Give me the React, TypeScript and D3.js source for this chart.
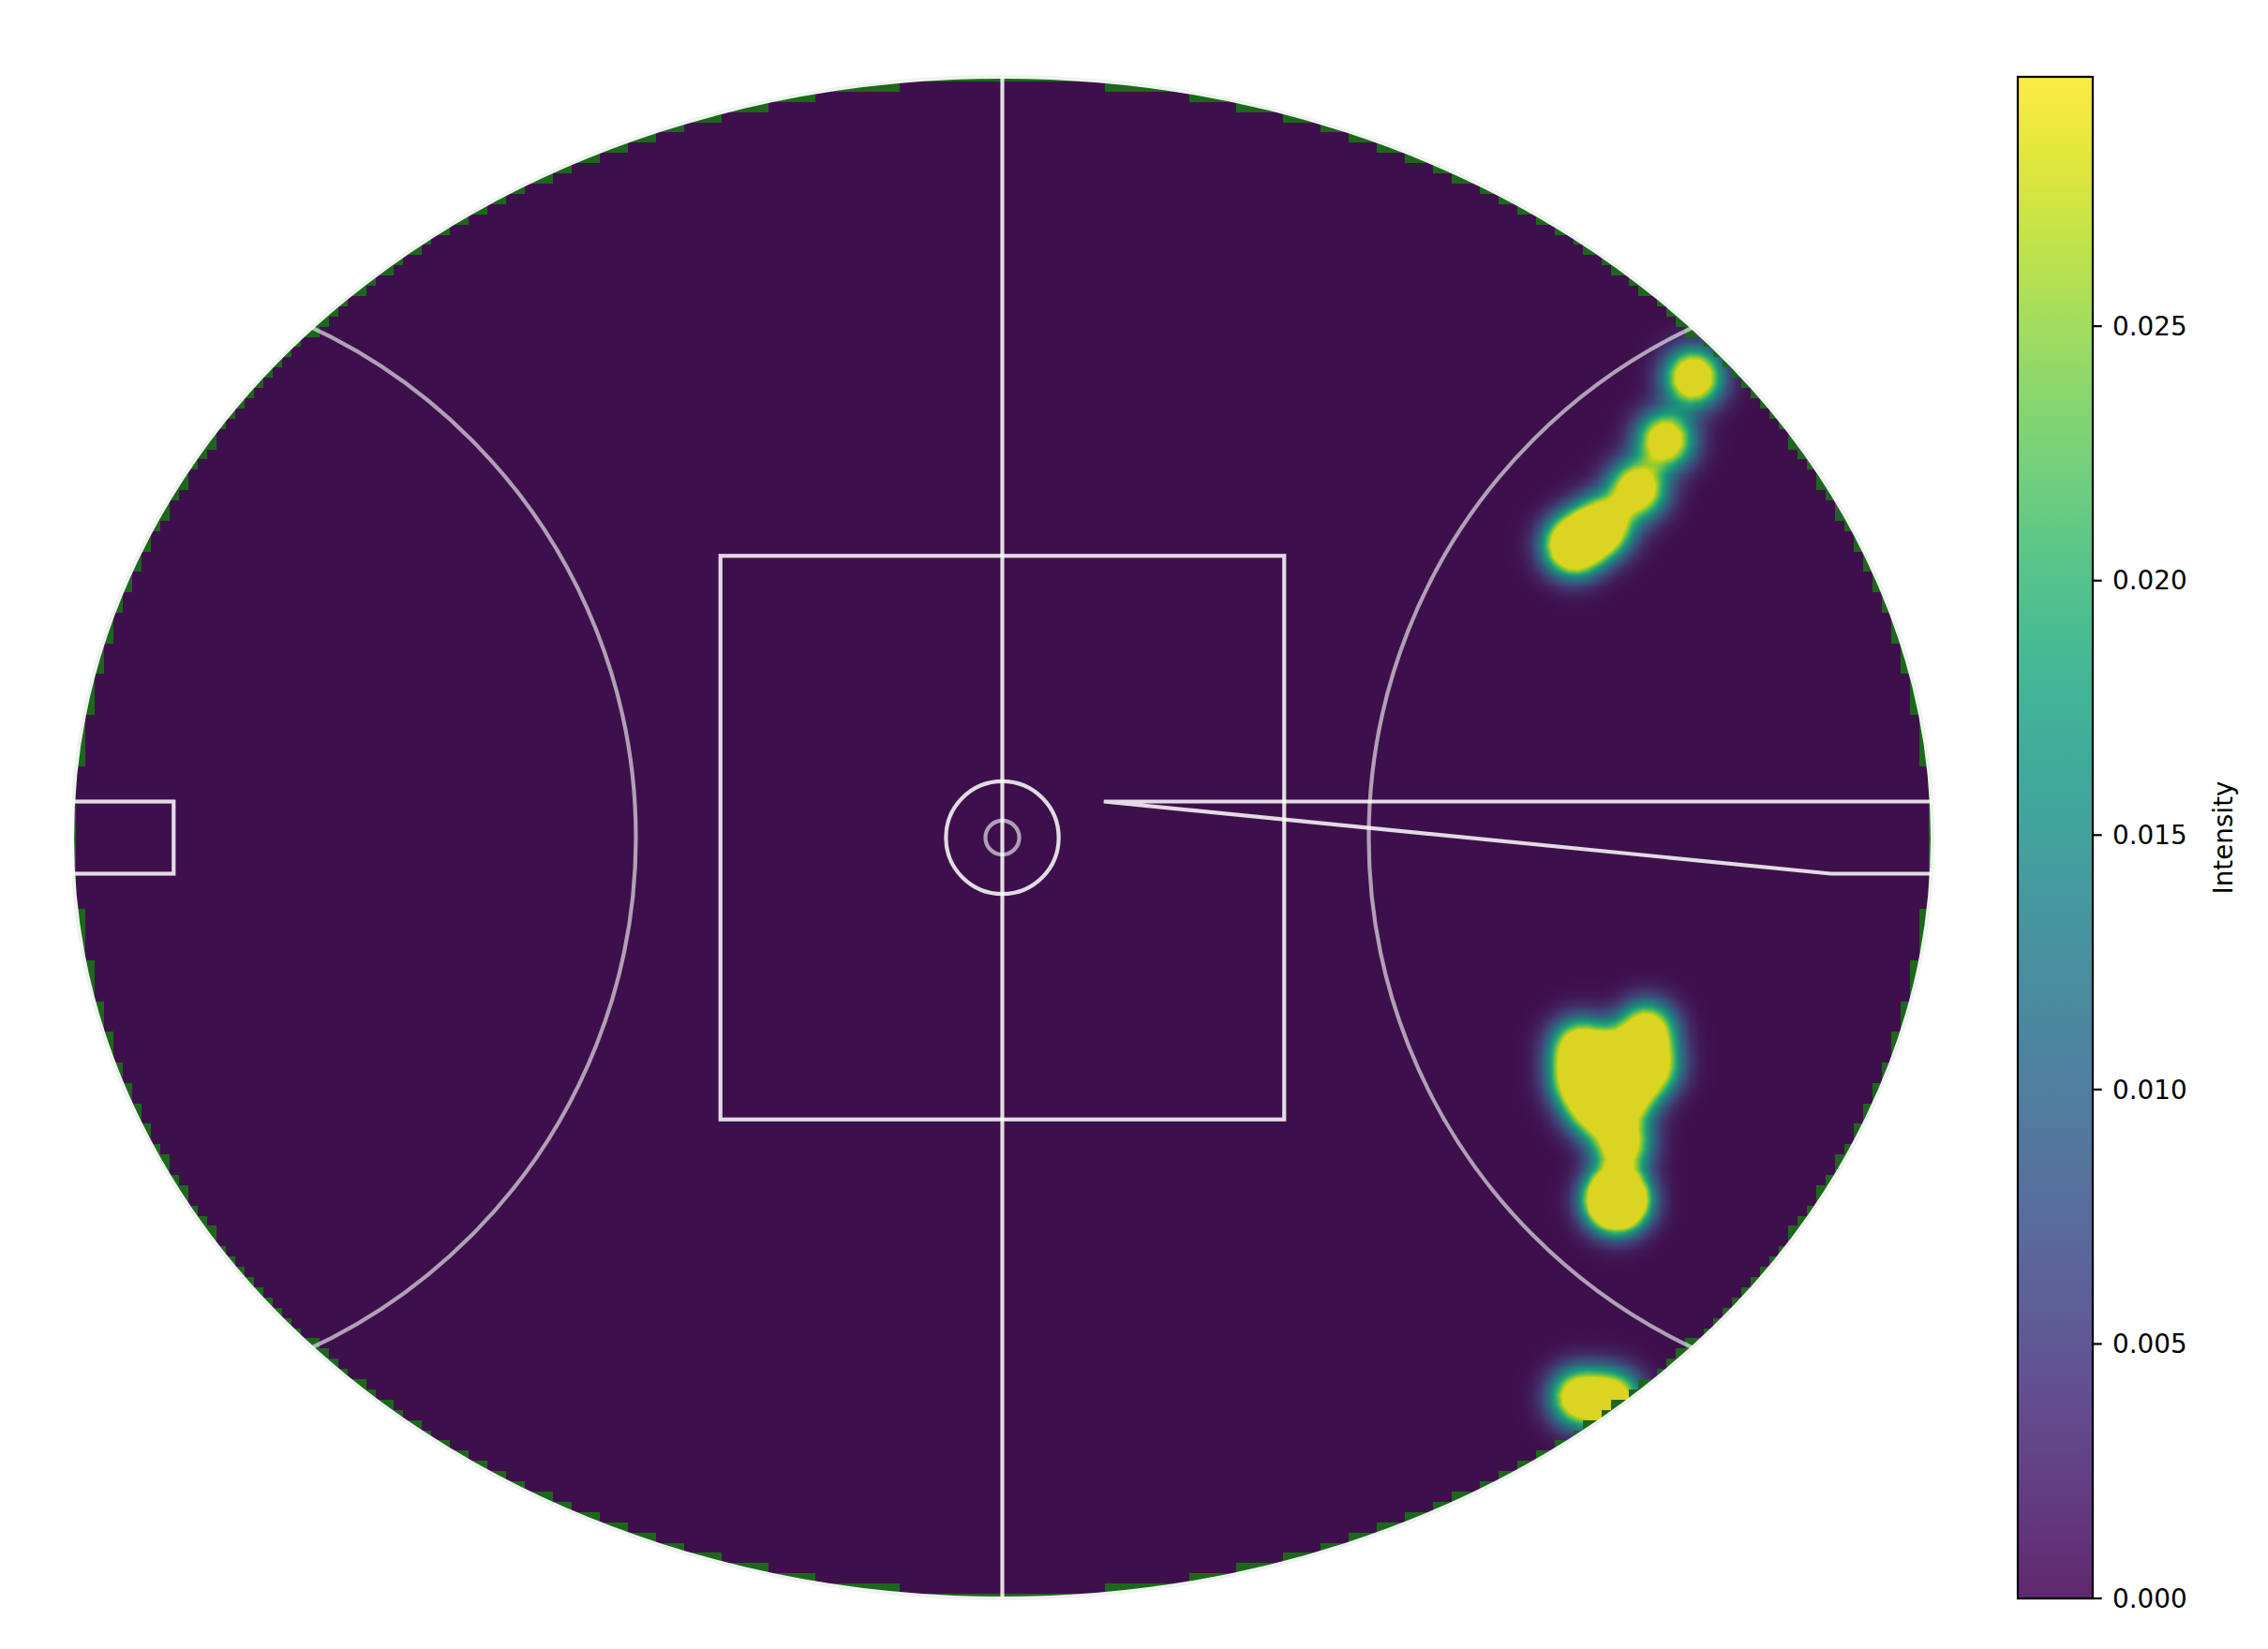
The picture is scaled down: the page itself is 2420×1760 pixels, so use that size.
import React, { useMemo } from 'react';
import * as d3 from 'd3';

const W = 2420;
const H = 1760;

// field size in metres (origin at centre, y up)
const halfL = 82.5;
const halfW = 67.5;

// shot locations (metres) and their weights
const shotX = [61.6, 59.1, 56.6, 53.45, 50.96, 51.45, 57.44, 57.77, 51.45, 54.53, 55.78, 52.87, 55.2, 54.78, 51.4, 54.4];
const shotY = [41.1, 35.5, 31.1, 27.76, 26.1, -18.79, -17.29, -20.45, -21.7, -19.62, -22.94, -24.19, -27.27, -32.34, -50.0, -50.2];
const shotW = [1.1, 1, 1.05, 1.3, 1.5, 1, 1, 1, 1, 1, 1, 1, 1, 2.5, 1, 1];

const cbTicks = [0, 0.005, 0.01, 0.015, 0.02, 0.025];
const vMax = 0.0299;
const bandwidth = 1.6;
const kernelPeak = 0.045;
// KDE grid: nodes spread over a slightly padded box
const gridX0 = -83;
const gridY0 = 68;
const gridCols = 200;
const gridRows = 150;
const heatAlpha = 0.85;

export default function App() {
    const xs = d3.scaleLinear().domain([-halfL, halfL]).range([77, 2062]);
    const ys = d3.scaleLinear().domain([halfW, -halfW]).range([82, 1706]);
    const k = xs(1) - xs(0);

    // image box covers the padded grid extent
    const imgLeft = Math.round(xs(gridX0));
    const imgTop = Math.round(ys(gridY0));
    const imgW = Math.round(xs(-gridX0)) - imgLeft;
    const imgH = Math.round(ys(-gridY0)) - imgTop;

    const heatUrl = useMemo(() => {
        const nx = d3.scaleLinear().domain([0, gridCols - 1]).range([gridX0, -gridX0]);
        const ny = d3.scaleLinear().domain([0, gridRows - 1]).range([gridY0, -gridY0]);
        const grid = new Float32Array(gridCols * gridRows);
        const inside = new Uint8Array(gridCols * gridRows);
        for (let j = 0; j < gridRows; j++) {
            const fy = ny(j);
            for (let i = 0; i < gridCols; i++) {
                const fx = nx(i);
                let s = 0;
                for (let q = 0; q < shotX.length; q++) {
                    const ddx = fx - shotX[q];
                    const ddy = fy - shotY[q];
                    s += shotW[q] * kernelPeak * Math.exp(-(ddx * ddx + ddy * ddy) / (2 * bandwidth * bandwidth));
                }
                grid[j * gridCols + i] = s;
                inside[j * gridCols + i] = (fx / halfL) ** 2 + (fy / halfW) ** 2 <= 1 ? 1 : 0;
            }
        }
        const lut: number[][] = [];
        for (let t = 0; t < 256; t++) {
            const c = d3.rgb(d3.interpolateViridis(t / 255));
            lut.push([c.r, c.g, c.b]);
        }
        const canvas = document.createElement('canvas');
        canvas.width = imgW;
        canvas.height = imgH;
        const ctx = canvas.getContext('2d')!;
        const img = ctx.createImageData(imgW, imgH);
        const a = Math.round(heatAlpha * 255);
        for (let py = 0; py < imgH; py++) {
            const gyf = ((py + 0.5) / imgH) * gridRows;
            const nj = Math.min(gridRows - 1, Math.floor(gyf));
            const gy = Math.max(0, Math.min(gridRows - 1, gyf - 0.5));
            const j0 = Math.min(gridRows - 2, Math.floor(gy));
            const ty = gy - j0;
            for (let px = 0; px < imgW; px++) {
                const gxf = ((px + 0.5) / imgW) * gridCols;
                const ni = Math.min(gridCols - 1, Math.floor(gxf));
                const o = (py * imgW + px) * 4;
                if (!inside[nj * gridCols + ni]) continue;
                const gx = Math.max(0, Math.min(gridCols - 1, gxf - 0.5));
                const i0 = Math.min(gridCols - 2, Math.floor(gx));
                const tx = gx - i0;
                const v00 = grid[j0 * gridCols + i0];
                const v01 = grid[j0 * gridCols + i0 + 1];
                const v10 = grid[(j0 + 1) * gridCols + i0];
                const v11 = grid[(j0 + 1) * gridCols + i0 + 1];
                const v = (v00 * (1 - tx) + v01 * tx) * (1 - ty) + (v10 * (1 - tx) + v11 * tx) * ty;
                const c = lut[Math.max(0, Math.min(255, Math.round((v / vMax) * 255)))];
                img.data[o] = c[0];
                img.data[o + 1] = c[1];
                img.data[o + 2] = c[2];
                img.data[o + 3] = a;
            }
        }
        ctx.putImageData(img, 0, 0);
        return canvas.toDataURL();
    }, []);

    const cScale = d3.scaleLinear().domain([0, vMax]).range([ys(-halfW), ys(halfW)]);
    const cbLeft = 2153;
    const cbRight = 2233;
    const gradStops = d3.range(0, 1.0001, 0.05);

    const mainLine = { stroke: 'white', strokeOpacity: 0.85, strokeWidth: 4.2, fill: 'none' };
    const softLine = { stroke: 'white', strokeOpacity: 0.6, strokeWidth: 4.2, fill: 'none' };

    // right goal square as it appears (a skewed outline)
    const rightGoal = d3.line<[number, number]>().x(d => xs(d[0])).y(d => ys(d[1]))([
        [halfL, 3.2], [9, 3.2], [halfL - 9, -3.2], [halfL, -3.2],
    ]);

    return (
        <svg width={W} height={H} style={{ position: 'absolute', left: 0, top: 0, background: 'white' }}
            fontFamily="DejaVu Sans, sans-serif">
            <defs>
                <clipPath id="oval">
                    <ellipse cx={xs(0)} cy={ys(0)} rx={halfL * k} ry={halfW * k} />
                </clipPath>
                <clipPath id="axes">
                    <rect x={xs(-halfL)} y={ys(halfW)} width={2 * halfL * k} height={2 * halfW * k} />
                </clipPath>
                <linearGradient id="viridis" x1="0" y1="1" x2="0" y2="0">
                    {gradStops.map(t => (
                        <stop key={t} offset={t} stopColor={d3.interpolateViridis(t)} stopOpacity={heatAlpha} />
                    ))}
                </linearGradient>
            </defs>

            {/* grass */}
            <ellipse cx={xs(0)} cy={ys(0)} rx={halfL * k} ry={halfW * k} fill="#1d671d" />

            {/* heatmap */}
            <image href={heatUrl} x={imgLeft} y={imgTop} width={imgW} height={imgH} clipPath="url(#axes)" />

            {/* oval boundary */}
            <ellipse cx={xs(0)} cy={ys(0)} rx={halfL * k} ry={halfW * k} fill="none" stroke="#eef3ee" strokeWidth={4} />

            {/* 50m arcs */}
            <g clipPath="url(#oval)">
                <circle cx={xs(-halfL)} cy={ys(0)} r={50 * k} {...softLine} />
                <circle cx={xs(halfL)} cy={ys(0)} r={50 * k} {...softLine} />
            </g>

            {/* centre line, square, circles */}
            <line x1={xs(0)} x2={xs(0)} y1={ys(halfW)} y2={ys(-halfW)} {...mainLine} />
            <rect x={xs(-25)} y={ys(25)} width={50 * k} height={50 * k} {...mainLine} />
            <circle cx={xs(0)} cy={ys(0)} r={5 * k} {...mainLine} />
            <circle cx={xs(0)} cy={ys(0)} r={1.5 * k} {...softLine} />

            {/* goal squares */}
            <rect x={xs(-halfL)} y={ys(3.2)} width={9 * k} height={6.4 * k} {...mainLine} />
            <path d={rightGoal ?? ''} {...mainLine} />

            {/* colour bar */}
            <rect x={cbLeft} y={ys(halfW)} width={cbRight - cbLeft} height={2 * halfW * k} fill="white" />
            <rect x={cbLeft} y={ys(halfW)} width={cbRight - cbLeft} height={2 * halfW * k} fill="url(#viridis)" />
            <rect x={cbLeft} y={ys(halfW)} width={cbRight - cbLeft} height={2 * halfW * k} fill="none" stroke="black" strokeWidth={2.2} />
            {cbTicks.map(t => (
                <g key={t} transform={`translate(${cbRight},${cScale(t)})`}>
                    <line x1={0} x2={9.7} stroke="black" strokeWidth={2.2} />
                    <text x={21} dy="0.35em" fontSize={27.8} fill="black">{d3.format('.3f')(t)}</text>
                </g>
            ))}
            <text transform={`translate(2372,${ys(0)}) rotate(-90)`} textAnchor="middle" dy="0.35em" fontSize={27.8} fill="black">
                Intensity
            </text>
        </svg>
    );
}
